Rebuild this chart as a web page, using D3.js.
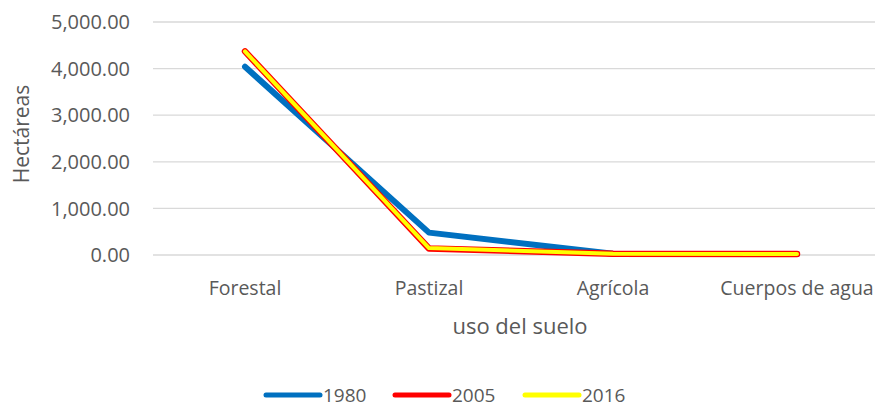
<!DOCTYPE html>
<html>
<head>
<meta charset="utf-8">
<script src="https://d3js.org/d3.v7.min.js"></script>
<style>
  body { margin: 0; background: #fff; }
  text { font-family: "Open Sans", "Noto Sans", sans-serif; fill: #595959; }
</style>
</head>
<body>
<svg id="chart" width="875" height="407"></svg>
<script>
var categories = ["Forestal", "Pastizal", "Agrícola", "Cuerpos de agua"];
var years = ["1980", "2005", "2016"];
var values1980 = [4040, 480, 25, 20];
var values2005 = [4370, 140, 25, 20];
var values2016 = [4370, 150, 25, 20];
var yTicks = [0, 1000, 2000, 3000, 4000, 5000];
var colors = ["#0070C0", "#FF0000", "#FFFF00"];
var widths = [6, 6.5, 4];

var svg = d3.select("#chart");
var margin = {left: 153, right: -14, top: 22, bottom: 152};
var width = 875 - margin.left - margin.right;
var height = 407 - margin.top - margin.bottom;

var x = d3.scalePoint().domain(categories).range([0, width]).padding(0.5);
var y = d3.scaleLinear().domain([0, 5000]).range([height, 0]);

var g = svg.append("g").attr("transform", "translate(" + margin.left + "," + margin.top + ")");

// gridlines
g.selectAll(".grid")
    .data(yTicks)
    .enter().append("line")
    .attr("x1", 0).attr("x2", width)
    .attr("y1", d => y(d)).attr("y2", d => y(d))
    .attr("stroke", "#d9d9d9")
    .attr("stroke-width", 1.3);

// y tick labels
g.selectAll(".ylab")
    .data(yTicks)
    .enter().append("text")
    .attr("x", -23)
    .attr("y", d => y(d))
    .attr("dy", "0.36em")
    .attr("text-anchor", "end")
    .style("font-size", "20px")
    .text(d => d3.format(",.2f")(d));

// x labels
g.selectAll(".xlab")
    .data(categories)
    .enter().append("text")
    .attr("x", d => x(d))
    .attr("y", height + 40)
    .attr("text-anchor", "middle")
    .style("font-size", "19.5px")
    .text(d => d);

// axis titles
svg.append("text")
    .attr("transform", "translate(29,134) rotate(-90)")
    .attr("text-anchor", "middle")
    .style("font-size", "21px")
    .text("Hectáreas");

svg.append("text")
    .attr("x", 520)
    .attr("y", 334)
    .attr("text-anchor", "middle")
    .style("font-size", "22px")
    .text("uso del suelo");

// series
var series = [values1980, values2005, values2016];
var line = d3.line()
    .x((d, i) => x(categories[i]))
    .y(d => y(d));

g.selectAll(".series")
    .data(series)
    .enter().append("path")
    .attr("d", d => line(d))
    .attr("fill", "none")
    .attr("stroke", (d, i) => colors[i])
    .attr("stroke-width", (d, i) => widths[i])
    .attr("stroke-linecap", "round")
    .attr("stroke-linejoin", "round");

// legend
var legendX = [266, 395, 525];
var legend = svg.selectAll(".legend")
    .data(years)
    .enter().append("g")
    .attr("transform", (d, i) => "translate(" + legendX[i] + ",395)");

legend.append("line")
    .attr("x1", 0).attr("x2", 54)
    .attr("stroke", (d, i) => colors[i])
    .attr("stroke-width", 5)
    .attr("stroke-linecap", "round");

legend.append("text")
    .attr("x", 57)
    .attr("dy", "0.36em")
    .style("font-size", "19px")
    .text(d => d);
</script>
</body>
</html>
